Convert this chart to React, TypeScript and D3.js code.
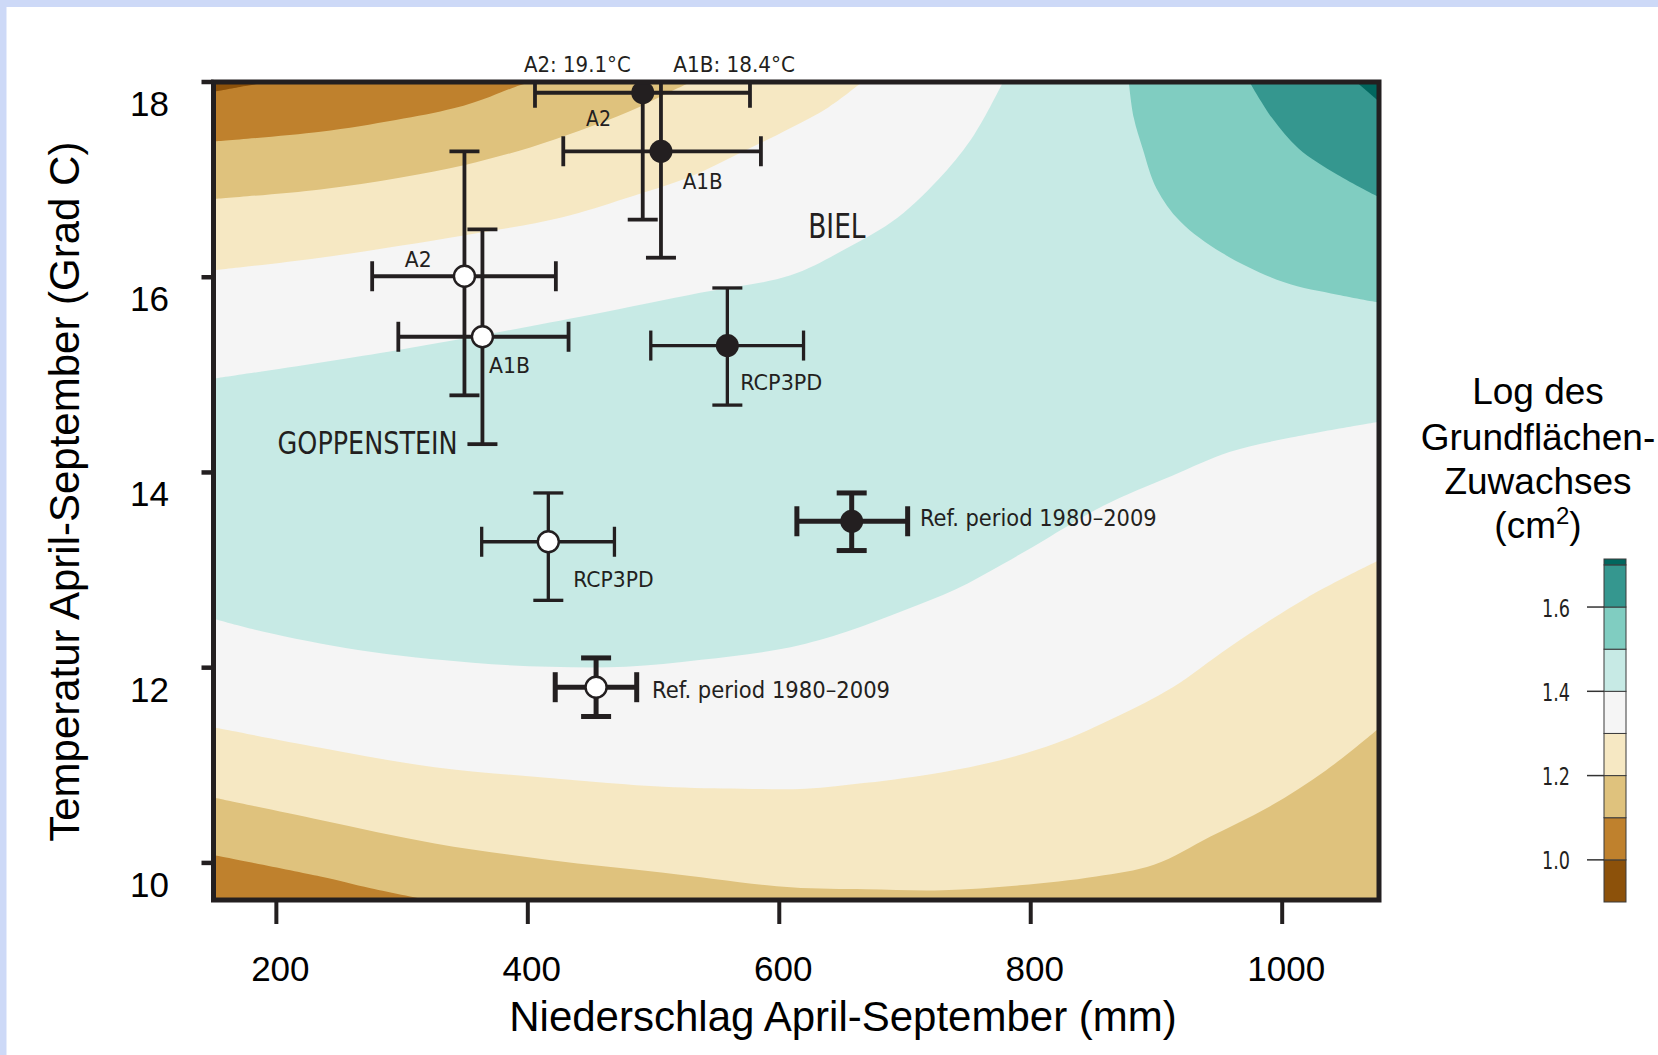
import React from 'react';
import * as d3 from 'd3';

// Achsen und Legende
const xTicks = [200, 400, 600, 800, 1000];
const yTicks = [10, 12, 14, 16, 18];
const legendTicks = [1.0, 1.2, 1.4, 1.6];
const contourLevels = [1.0, 1.1, 1.2, 1.3, 1.4, 1.5, 1.6, 1.7];
const surfaceRange = [0.9, 1.714];

// Konturlinien [Niederschlag mm, Temperatur °C]
const iso100Top = [[150, 17.9], [171, 17.95], [195, 18.0]];
const iso110Top = [[150, 17.39], [235, 17.49], [295, 17.61], [341, 17.73], [370, 17.85], [390, 17.95], [402, 18.0]];
const iso120Top = [[150, 16.8], [235, 16.9], [298, 17.02], [350, 17.15], [402, 17.33], [441, 17.5], [481, 17.7], [510, 17.88], [530, 18.0]];
const iso130Top = [[150, 16.07], [235, 16.2], [350, 16.43], [426, 16.61], [478, 16.81], [529, 17.03], [570, 17.28], [609, 17.53], [639, 17.74], [666, 18.0]];
const iso140Top = [[150, 14.96], [295, 15.25], [448, 15.61], [537, 15.84], [609, 16.02], [654, 16.3], [694, 16.61], [730, 17.05], [755, 17.46], [778, 18.0]];
const iso150Right = [[878, 18.0], [882, 17.63], [889, 17.32], [900, 16.91], [919, 16.57], [952, 16.25], [1001, 15.95], [1044, 15.82], [1077, 15.74]];
const iso160Right = [[974, 18.0], [992, 17.63], [1013, 17.32], [1044, 17.05], [1077, 16.82]];
const iso170Right = [[1059, 18.0], [1077, 17.8]];
const iso140Bottom = [[150, 12.5], [189, 12.37], [265, 12.18], [356, 12.05], [417, 12.01], [478, 12.01], [538, 12.08], [609, 12.21], [654, 12.37], [700, 12.59], [740, 12.8], [779, 13.07], [815, 13.34], [852, 13.62], [876, 13.77], [913, 13.97], [958, 14.21], [1004, 14.35], [1077, 14.52]];
const iso130Bottom = [[150, 11.39], [235, 11.18], [326, 10.98], [417, 10.87], [508, 10.78], [570, 10.76], [621, 10.76], [669, 10.82], [730, 10.93], [775, 11.05], [821, 11.23], [867, 11.49], [913, 11.8], [958, 12.21], [1020, 12.72], [1077, 13.1]];
const iso120Bottom = [[150, 10.67], [235, 10.44], [326, 10.2], [417, 10.03], [508, 9.9], [609, 9.75], [669, 9.73], [730, 9.72], [791, 9.77], [852, 9.86], [898, 9.98], [943, 10.27], [989, 10.57], [1035, 10.95], [1077, 11.38]];
const iso110Bottom = [[150, 10.08], [235, 9.86], [275, 9.74], [320, 9.62]];

// Szenarien: Mittelwert und Fehlerbalken
const bielPoints = [
  { scenario: 'A2', precip: 491.4, precipLo: 405.7, precipHi: 576.7, temp: 17.89, tempLo: 16.59, tempHi: 19.1 },
  { scenario: 'A1B', precip: 505.9, precipLo: 428.2, precipHi: 585.4, temp: 17.29, tempLo: 16.2, tempHi: 18.4 },
  { scenario: 'RCP3PD', precip: 558.7, precipLo: 497.8, precipHi: 619.3, temp: 15.3, tempLo: 14.69, tempHi: 15.89 },
  { scenario: 'Ref', precip: 657.6, precipLo: 614.0, precipHi: 702.1, temp: 13.5, tempLo: 13.2, tempHi: 13.79 },
];
const goppPoints = [
  { scenario: 'A2', precip: 349.6, precipLo: 276.2, precipHi: 422.3, temp: 16.01, tempLo: 14.79, tempHi: 17.29 },
  { scenario: 'A1B', precip: 363.9, precipLo: 297.0, precipHi: 432.4, temp: 15.39, tempLo: 14.29, tempHi: 16.49 },
  { scenario: 'RCP3PD', precip: 416.3, precipLo: 363.3, precipHi: 468.9, temp: 13.29, tempLo: 12.69, tempHi: 13.79 },
  { scenario: 'Ref', precip: 454.3, precipLo: 421.8, precipHi: 486.6, temp: 11.8, tempLo: 11.5, tempHi: 12.1 },
];

const scenarioText: Record<string, string> = { A2: 'A2', A1B: 'A1B', RCP3PD: 'RCP3PD', Ref: 'Ref. period 1980\u20132009' };

const ink = '#231f20';
const narrow = "'Liberation Sans Narrow', 'Arial Narrow', 'DejaVu Sans Condensed', sans-serif";
const sans = "'Liberation Sans', Arial, sans-serif";

// Stil je Szenario
const barWidth: Record<string, number> = { A2: 3.8, A1B: 3.8, RCP3PD: 3.3, Ref: 5 };
const labelSize: Record<string, number> = { A2: 21.5, A1B: 21.5, RCP3PD: 22, Ref: 23 };
// Beschriftung: Versatz (px) relativ zum Punkt und Textbreite
const bielLabels: Record<string, number[]> = { A2: [-56.7, 33.4, 25], A1B: [21.7, 37.3, 40], RCP3PD: [13, 44.5, 82], Ref: [68.3, 5, 236.7] };
const goppLabels: Record<string, number[]> = { A2: [-59.7, -9, 26.8], A1B: [6.5, 36.6, 41], RCP3PD: [25, 45, 80.3], Ref: [56, 10.6, 238] };
const offTopLabels: Record<string, number[]> = { A2: [-118.7, 106.7], A1B: [12.3, 121.7] };

export default function App() {
  const W = 1658;
  const H = 1055;
  const plot = { left: 213.5, right: 1379, top: 82, bottom: 900 };

  const x = d3.scaleLinear().domain([150, 1077]).range([plot.left, plot.right]);
  const y = d3.scaleLinear().domain([9.62, 18]).range([plot.bottom, plot.top]);
  const bandColor = d3.scaleThreshold<number, string>().domain(contourLevels).range(d3.schemeBrBG[9] as string[]);

  const [x0, x1] = x.domain();
  const [y0, y1] = y.domain();
  const corners: Record<string, number[][]> = {
    topLeft: [[x0 - 30, y1 + 0.5]],
    topRight: [[x1 + 30, y1 + 0.5]],
    bottomLeft: [[x0 - 30, y0 - 0.5]],
    bottom: [[x1 + 30, y0 - 0.5], [x0 - 30, y0 - 0.5]],
  };

  const line = d3.line<number[]>().x(d => x(d[0])).y(d => y(d[1])).curve(d3.curveCatmullRom.alpha(0.5));

  const bands = [
    { level: 1.4, pts: iso140Top, toward: 'low', corner: 'topLeft' },
    { level: 1.3, pts: iso130Top, toward: 'low', corner: 'topLeft' },
    { level: 1.2, pts: iso120Top, toward: 'low', corner: 'topLeft' },
    { level: 1.1, pts: iso110Top, toward: 'low', corner: 'topLeft' },
    { level: 1.0, pts: iso100Top, toward: 'low', corner: 'topLeft' },
    { level: 1.4, pts: iso140Bottom, toward: 'low', corner: 'bottom' },
    { level: 1.3, pts: iso130Bottom, toward: 'low', corner: 'bottom' },
    { level: 1.2, pts: iso120Bottom, toward: 'low', corner: 'bottom' },
    { level: 1.1, pts: iso110Bottom, toward: 'low', corner: 'bottomLeft' },
    { level: 1.5, pts: iso150Right, toward: 'high', corner: 'topRight' },
    { level: 1.6, pts: iso160Right, toward: 'high', corner: 'topRight' },
    { level: 1.7, pts: iso170Right, toward: 'high', corner: 'topRight' },
  ];

  const bandPath = (b: any) =>
    line(b.pts) + corners[b.corner].map(c => `L${x(c[0])},${y(c[1])}`).join('') + 'Z';

  // Legende
  const ly = d3.scaleLinear().domain(surfaceRange).range([902, 559]);
  const legendEdges = [surfaceRange[0], ...contourLevels, surfaceRange[1]];
  const legendX = 1604;
  const legendW = 22;

  const cap = 15;

  const drawSite = (points: any[], filled: boolean, labels: Record<string, number[]>) =>
    points.map(p => {
      const cx = x(p.precip);
      const cy = y(p.temp);
      const sw = barWidth[p.scenario];
      const [dx, dy, len] = labels[p.scenario];
      return (
        <g key={p.scenario}>
          <g clipPath="url(#plotClip)" stroke={ink} strokeWidth={sw}>
            <line x1={x(p.precipLo)} x2={x(p.precipHi)} y1={cy} y2={cy} />
            <line x1={cx} x2={cx} y1={y(p.tempLo)} y2={y(p.tempHi)} />
            <line x1={x(p.precipLo)} x2={x(p.precipLo)} y1={cy - cap} y2={cy + cap} />
            <line x1={x(p.precipHi)} x2={x(p.precipHi)} y1={cy - cap} y2={cy + cap} />
            <line x1={cx - cap} x2={cx + cap} y1={y(p.tempLo)} y2={y(p.tempLo)} />
            <line x1={cx - cap} x2={cx + cap} y1={y(p.tempHi)} y2={y(p.tempHi)} />
          </g>
          {filled ? (
            <circle cx={cx} cy={cy} r={11.5} fill={ink} />
          ) : (
            <circle cx={cx} cy={cy} r={10.5} fill="#fff" stroke={ink} strokeWidth={2.4} />
          )}
          <text
            x={cx + dx}
            y={cy + dy}
            fontFamily={narrow}
            fontSize={labelSize[p.scenario]}
            textLength={len}
            lengthAdjust="spacingAndGlyphs"
            fill={ink}
          >
            {scenarioText[p.scenario]}
          </text>
          {p.tempHi > y1 && (
            <text
              x={cx + offTopLabels[p.scenario][0]}
              y={plot.top - 9.7}
              fontFamily={narrow}
              fontSize={21.5}
              textLength={offTopLabels[p.scenario][1]}
              lengthAdjust="spacingAndGlyphs"
              fill={ink}
            >
              {`${p.scenario}: ${p.tempHi.toFixed(1)}°C`}
            </text>
          )}
        </g>
      );
    });

  return (
    <svg width={W} height={H} style={{ position: 'absolute', left: 0, top: 0, display: 'block', background: '#fff' }}>
      <defs>
        <clipPath id="plotClip">
          <rect x={plot.left} y={plot.top} width={plot.right - plot.left} height={plot.bottom - plot.top} />
        </clipPath>
      </defs>
      <rect x={0} y={0} width={W} height={7} fill="#cdd9f7" />
      <rect x={0} y={0} width={6.5} height={H} fill="#cdd9f7" />

      {/* gefüllte Konturen */}
      <g clipPath="url(#plotClip)">
        <rect x={plot.left} y={plot.top} width={plot.right - plot.left} height={plot.bottom - plot.top} fill={bandColor(1.45)} />
        {bands.map((b, i) => (
          <path key={i} d={bandPath(b)} fill={bandColor(b.toward === 'low' ? b.level - 0.05 : b.level + 0.05)} />
        ))}
      </g>

      {/* Punkte mit Fehlerbalken */}
      {drawSite(goppPoints, false, goppLabels)}
      {drawSite(bielPoints, true, bielLabels)}

      <text x={x(201)} y={y(14.19)} fontFamily={narrow} fontSize={32} textLength={180} lengthAdjust="spacingAndGlyphs" fill={ink}>GOPPENSTEIN</text>
      <text x={x(623)} y={y(16.4)} fontFamily={narrow} fontSize={33} textLength={57.4} lengthAdjust="spacingAndGlyphs" fill={ink}>BIEL</text>

      {/* Rahmen */}
      <rect x={plot.left} y={plot.top} width={plot.right - plot.left} height={plot.bottom - plot.top} fill="none" stroke={ink} strokeWidth={5} />

      {/* x-Achse */}
      {xTicks.map(t => (
        <g key={t}>
          <line x1={x(t)} x2={x(t)} y1={plot.bottom} y2={plot.bottom + 24} stroke={ink} strokeWidth={4} />
          <text x={x(t) + 4} y={981} textAnchor="middle" fontFamily={sans} fontSize={35} fill="#000">{t}</text>
        </g>
      ))}
      <text x={843} y={1031} textAnchor="middle" fontFamily={sans} fontSize={42} fill="#000">
        Niederschlag April-September (mm)
      </text>

      {/* y-Achse */}
      {yTicks.map(t => (
        <g key={t}>
          <line x1={plot.left - 12} x2={plot.left} y1={y(t)} y2={y(t)} stroke={ink} strokeWidth={4.5} />
          <text x={169} y={y(t) + 34} textAnchor="end" fontFamily={sans} fontSize={35} fill="#000">{t}</text>
        </g>
      ))}
      <text transform="translate(79,491.7) rotate(-90)" textAnchor="middle" fontFamily={sans} fontSize={42} fill="#000">
        Temperatur April-September (Grad C)
      </text>

      {/* Legende */}
      <g fontFamily={sans} fontSize={37} fill="#000" textAnchor="middle">
        <text x={1538} y={404}>Log des</text>
        <text x={1538} y={449.6}>Grundflächen-</text>
        <text x={1538} y={493.6}>Zuwachses</text>
        <text x={1538} y={537.6}>
          <tspan>(cm</tspan>
          <tspan dy={-14} fontSize={24}>2</tspan>
          <tspan dy={14}>)</tspan>
        </text>
      </g>
      {legendEdges.slice(0, -1).map((v, i) => (
        <rect
          key={v}
          x={legendX}
          y={ly(legendEdges[i + 1])}
          width={legendW}
          height={ly(v) - ly(legendEdges[i + 1])}
          fill={bandColor((v + legendEdges[i + 1]) / 2)}
          stroke="#3a3a3a"
          strokeWidth={1}
        />
      ))}
      {legendTicks.map(t => (
        <g key={t}>
          <line x1={legendX - 17} x2={legendX} y1={ly(t)} y2={ly(t)} stroke="#333" strokeWidth={1.5} />
          <text x={1570} y={ly(t) + 9.5} textAnchor="end" fontFamily={narrow} fontSize={24} textLength={28} lengthAdjust="spacingAndGlyphs" fill={ink}>
            {t.toFixed(1)}
          </text>
        </g>
      ))}
    </svg>
  );
}
